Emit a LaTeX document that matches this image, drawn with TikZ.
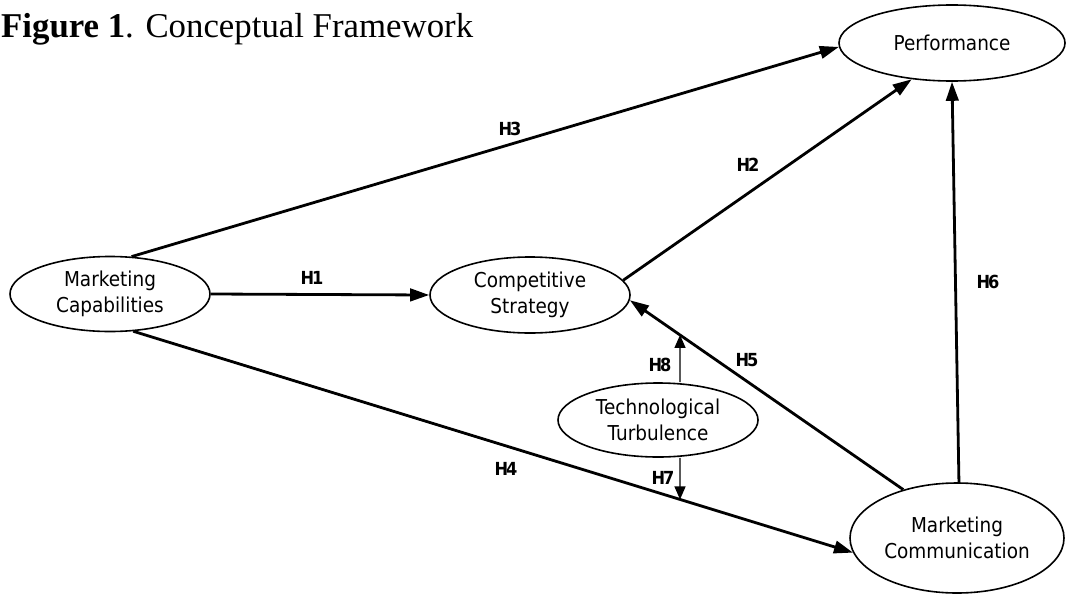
\documentclass[tikz,border=0pt]{standalone}
\usepackage{fontspec}
\setmainfont{DejaVu Sans}[FakeStretch=0.9]
\newfontfamily\titlefont{Liberation Serif}
\usetikzlibrary{shapes.geometric,arrows.meta,calc}

\begin{document}
\begin{tikzpicture}[x=1pt,y=-1pt,
  construct/.style={ellipse, draw, line width=1.6pt, inner sep=0pt, align=center,
    font=\fontsize{20.5}{26.5}\selectfont},
  path arrow/.style={line width=2.8pt, -{Triangle[length=19pt,width=12.5pt]}},
  mod arrow/.style={line width=1.4pt, -{Triangle[length=13pt,width=11pt]}},
  hlabel/.style={font=\fontsize{18}{18}\selectfont\bfseries, inner sep=0pt}]
\useasboundingbox (0,0) rectangle (1067,597);

\node[anchor=base west, inner sep=0pt, font=\titlefont\fontsize{34.8}{34.8}\selectfont] (title) at (1,37)
  {\textbf{Figure 1}. Conceptual Framework};

\node[construct, minimum width=200pt, minimum height=75pt] (mc) at (110,294) {Marketing\\Capabilities};
\node[construct, minimum width=200pt, minimum height=76pt] (cs) at (530,295) {Competitive\\Strategy};
\node[construct, minimum width=226pt, minimum height=76pt] (perf) at (952,43) {Performance};
\node[construct, minimum width=200pt, minimum height=74pt] (tt) at (658,420) {Technological\\Turbulence};
\node[construct, minimum width=214pt, minimum height=110pt] (mcom) at (957,538) {Marketing\\Communication};

\draw[path arrow] (mc.east) -- (cs.west);
\draw[path arrow] (mc.60) -- (perf.182);
\draw[path arrow] (cs.9) -- (perf.222);
\draw[path arrow] (mc.-58) -- (mcom.188);
\draw[path arrow] (mcom.138) -- (cs.-3);
\draw[path arrow] (mcom.88) -- (perf.south);

\coordinate (vx1) at (680,0);
\coordinate (vx2) at (680,597);
\coordinate (h4s) at (mc.-58);
\coordinate (h4e) at (mcom.188);
\coordinate (h5s) at (mcom.138);
\coordinate (h5e) at (cs.-3);
\coordinate (h7end) at (intersection of vx1--vx2 and h4s--h4e);
\coordinate (h8end) at (intersection of vx1--vx2 and h5s--h5e);

\draw[mod arrow] (tt.north -| vx1) -- (h8end);
\draw[mod arrow] (tt.south -| vx1) -- (h7end);

\node[hlabel] (l1) at (312,278) {H\kern-2pt1};
\node[hlabel] (l2) at (748,165) {H\kern-2pt2};
\node[hlabel] (l3) at (510,129) {H\kern-2pt3};
\node[hlabel] (l4) at (506,469) {H\kern-2pt4};
\node[hlabel] (l5) at (747,360) {H\kern-2pt5};
\node[hlabel] (l6) at (988,282) {H\kern-2pt6};
\node[hlabel] (l7) at (663,478) {H\kern-2pt7};
\node[hlabel] (l8) at (660,365) {H\kern-2pt8};
\end{tikzpicture}
\end{document}
